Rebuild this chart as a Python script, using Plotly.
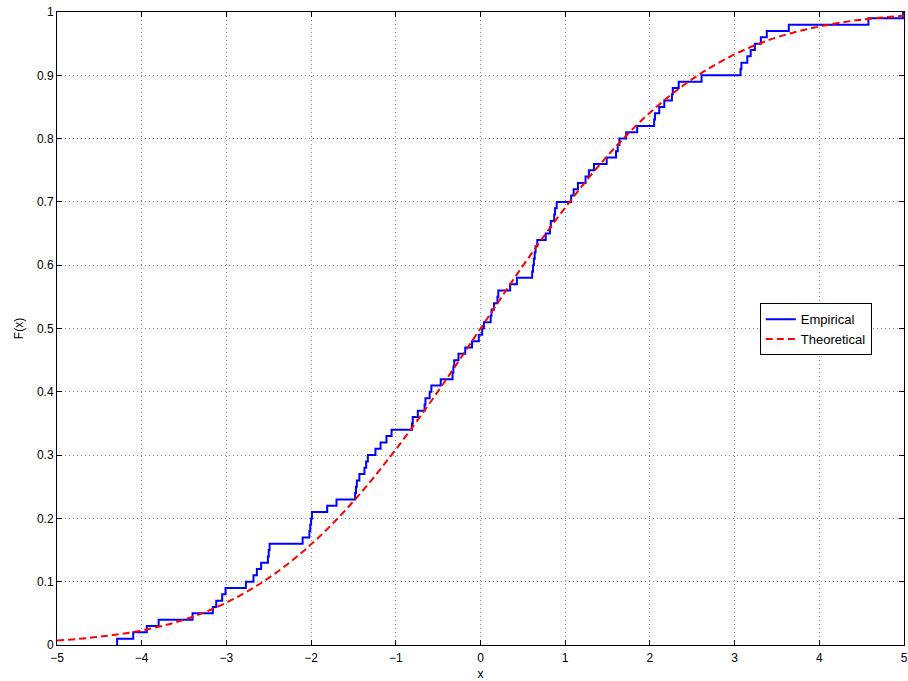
import plotly.graph_objects as go

# Sorted sample values; each one lifts the empirical CDF by 1/100
sample_x = [
    -4.29, -4.10, -3.94, -3.80, -3.40, -3.16, -3.12, -3.05, -3.01, -2.77,
    -2.68, -2.64, -2.59, -2.51, -2.50, -2.49, -2.10, -2.02, -2.01, -2.00,
    -1.99, -1.81, -1.70, -1.48, -1.47, -1.46, -1.43, -1.37, -1.35, -1.33,
    -1.24, -1.18, -1.11, -1.05, -0.81, -0.80, -0.74, -0.66, -0.65, -0.60,
    -0.58, -0.47, -0.33, -0.32, -0.31, -0.26, -0.18, -0.10, -0.02, 0.02,
    0.04, 0.12, 0.13, 0.16, 0.20, 0.21, 0.35, 0.43, 0.61, 0.62,
    0.63, 0.64, 0.65, 0.67, 0.77, 0.82, 0.83, 0.87, 0.88, 0.90,
    1.07, 1.10, 1.15, 1.24, 1.28, 1.34, 1.49, 1.60, 1.62, 1.64,
    1.72, 1.85, 2.05, 2.06, 2.11, 2.17, 2.26, 2.27, 2.34, 2.61,
    3.07, 3.08, 3.15, 3.19, 3.24, 3.31, 3.38, 3.64, 4.58, 4.99,
]

# Theoretical CDF values on a 0.5 grid
theory_x = [-5.0, -4.5, -4.0, -3.5, -3.0, -2.5, -2.0, -1.5, -1.0, -0.5, 0.0,
            0.5, 1.0, 1.5, 2.0, 2.5, 3.0, 3.5, 4.0, 4.5, 5.0]
theory_F = [0.007, 0.013, 0.023, 0.040, 0.067, 0.106, 0.159, 0.227, 0.309, 0.401, 0.500,
            0.599, 0.691, 0.773, 0.841, 0.894, 0.933, 0.960, 0.977, 0.988, 0.994]

x_ticks = [-5, -4, -3, -2, -1, 0, 1, 2, 3, 4, 5]
y_ticks = [0, 0.1, 0.2, 0.3, 0.4, 0.5, 0.6, 0.7, 0.8, 0.9, 1]
y_tick_text = ["0", "0.1", "0.2", "0.3", "0.4", "0.5", "0.6", "0.7", "0.8", "0.9", "1"]

n = len(sample_x)
step_x = [sample_x[0]] + sample_x
step_y = [0.0] + [(i + 1) / n for i in range(n)]

FONT = "Liberation Sans, Arial, sans-serif"

fig = go.Figure()
fig.add_trace(go.Scatter(
    x=step_x, y=step_y, mode="lines", name="Empirical",
    line=dict(color="#0000ff", width=2, shape="hv"),
))
fig.add_trace(go.Scatter(
    x=theory_x, y=theory_F, mode="lines", name="Theoretical",
    line=dict(color="#ff0000", width=2, dash="7px,4px", shape="spline", smoothing=1.0),
))

axis_common = dict(
    showline=True, linecolor="black", linewidth=1, mirror="ticks",
    ticks="inside", ticklen=5, tickcolor="black",
    showgrid=True, gridcolor="#8c8c8c", gridwidth=1, griddash="1px,3px",
    zeroline=False, automargin=False,
    tickfont=dict(family=FONT, size=12, color="black"),
)

fig.update_xaxes(
    range=[-5, 5], tickvals=x_ticks, ticklabelstandoff=2,
    title=dict(text="x", standoff=5, font=dict(family=FONT, size=12, color="black")),
    **axis_common,
)
fig.update_yaxes(
    range=[0, 1], tickvals=y_ticks, ticktext=y_tick_text,
    title=dict(text="F(x)", standoff=10, font=dict(family=FONT, size=12, color="black")),
    **axis_common,
)

fig.update_layout(
    width=908, height=681,
    margin=dict(l=57, r=4, t=12, b=36),
    paper_bgcolor="white", plot_bgcolor="white",
    showlegend=True,
    legend=dict(
        x=0.962, xanchor="right", y=0.54, yanchor="top",
        bgcolor="white", bordercolor="black", borderwidth=1,
        font=dict(family=FONT, size=13, color="black"),
        tracegroupgap=0,
    ),
)

fig.write_html("out.html")
